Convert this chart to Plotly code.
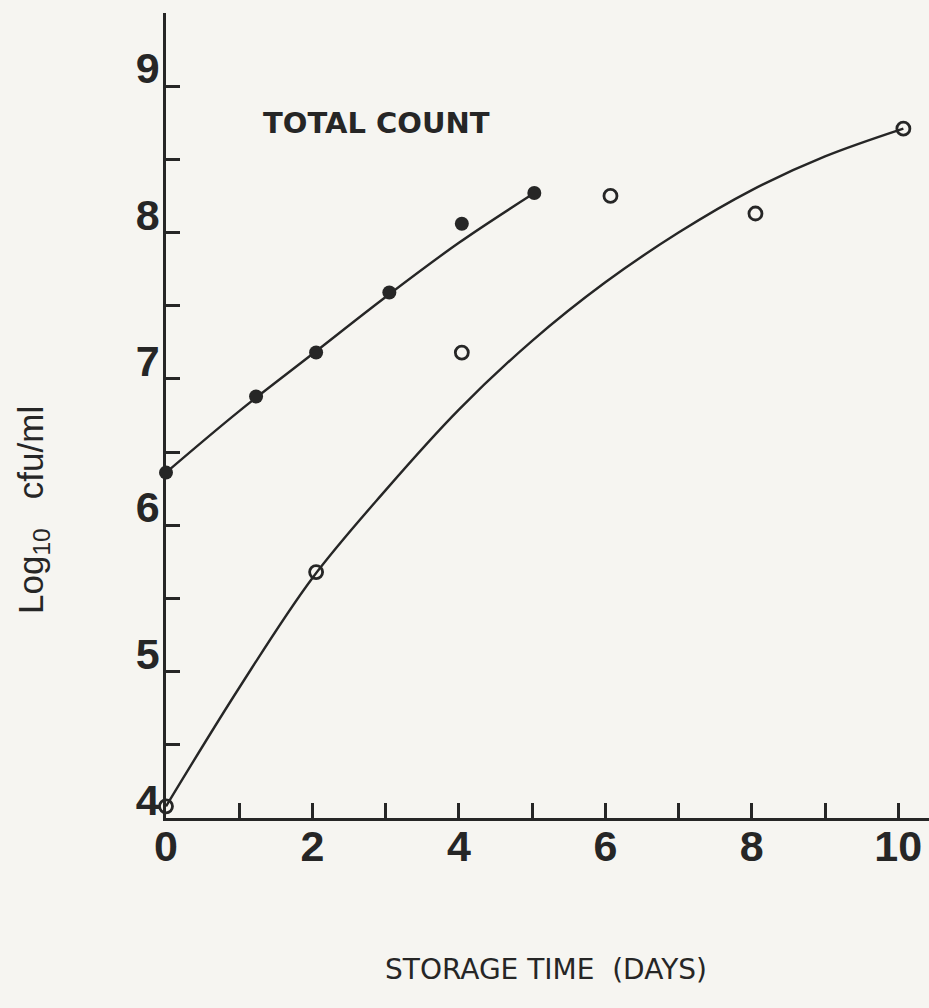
import plotly.graph_objects as go

# Filled circles (upper series)
filled_days = [0, 1.23, 2.05, 3.05, 4.04, 5.03]
filled_log = [6.36, 6.88, 7.18, 7.59, 8.06, 8.27]
# Fitted line through filled circles
filled_fit_days = [0, 1, 2, 3, 4, 5.03]
filled_fit_log = [6.36, 6.78, 7.17, 7.56, 7.93, 8.27]

# Open circles (lower series)
open_days = [0, 2.05, 4.04, 6.07, 8.05, 10.07]
open_log = [4.08, 5.68, 7.18, 8.25, 8.13, 8.71]
# Fitted curve through open circles
open_fit_days = [0, 1, 2, 3, 4, 5, 6, 7, 8, 9, 10.07]
open_fit_log = [4.08, 4.89, 5.64, 6.24, 6.79, 7.26, 7.66, 8.0, 8.29, 8.52, 8.71]

x_tick_vals = [0, 2, 4, 6, 8, 10]
x_tick_text = ["0", "2", "4", "6", "8", "10"]
y_tick_vals = [4, 5, 6, 7, 8, 9]
y_tick_text = ["4", "5", "6", "7", "8", "9"]

ink = "#262626"
bg = "#f6f5f1"

fig = go.Figure()
fig.add_trace(go.Scatter(x=filled_fit_days, y=filled_fit_log, mode="lines",
                         line=dict(color=ink, width=2.4, shape="spline"),
                         cliponaxis=False, showlegend=False, hoverinfo="skip"))
fig.add_trace(go.Scatter(x=open_fit_days, y=open_fit_log, mode="lines",
                         line=dict(color=ink, width=2.4, shape="spline"),
                         cliponaxis=False, showlegend=False, hoverinfo="skip"))
fig.add_trace(go.Scatter(x=filled_days, y=filled_log, mode="markers",
                         marker=dict(symbol="circle", size=14, color=ink),
                         cliponaxis=False, showlegend=False))
fig.add_trace(go.Scatter(x=open_days, y=open_log, mode="markers",
                         marker=dict(symbol="circle-open", size=13, color=ink,
                                     line=dict(width=2.8, color=ink)),
                         cliponaxis=False, showlegend=False))

tick_font = dict(family="Liberation Sans, Arial, sans-serif", size=43, color=ink, weight="bold")

fig.update_layout(
    width=929, height=1008,
    margin=dict(l=166, r=0, t=13, b=190),
    paper_bgcolor=bg, plot_bgcolor=bg,
    xaxis=dict(range=[0, 10.42], showgrid=False, zeroline=False,
               showline=True, linecolor=ink, linewidth=2.5,
               tickmode="array", tickvals=x_tick_vals, ticktext=x_tick_text,
               ticks="inside", ticklen=15, tickwidth=2.5, tickcolor=ink,
               minor=dict(dtick=1, tick0=0, ticks="inside", ticklen=15,
                          tickwidth=2.5, tickcolor=ink, showgrid=False),
               tickfont=tick_font, ticklabelstandoff=-11),
    yaxis=dict(range=[4, 9.5], showgrid=False, zeroline=False,
               showline=True, linecolor=ink, linewidth=2.5,
               tickmode="array", tickvals=y_tick_vals, ticktext=y_tick_text,
               ticks="inside", ticklen=14, tickwidth=2.5, tickcolor=ink,
               minor=dict(dtick=0.5, tick0=4, ticks="inside", ticklen=14,
                          tickwidth=2.5, tickcolor=ink, showgrid=False),
               tickfont=tick_font, ticklabelstandoff=-5, ticklabelshift=-18),
    annotations=[
        dict(text="TOTAL COUNT", x=2.88, y=8.75, xref="x", yref="y",
             showarrow=False, xanchor="center", yanchor="middle",
             font=dict(family="DejaVu Sans, sans-serif", size=29, color=ink, weight="bold")),
        dict(text="Log<sub>10</sub>   cfu/ml", x=(33 - 166) / 763, y=(818 - 510) / 805,
             xref="paper", yref="paper", textangle=-90, showarrow=False,
             xanchor="center", yanchor="middle",
             font=dict(family="Liberation Sans, Arial, sans-serif", size=35, color=ink)),
        dict(text="STORAGE TIME  (DAYS)", x=(546 - 166) / 763, y=(818 - 969) / 805,
             xref="paper", yref="paper", showarrow=False,
             xanchor="center", yanchor="middle",
             font=dict(family="DejaVu Sans, sans-serif", size=28, color=ink)),
    ],
)

fig.write_html("out.html",
               config={"displayModeBar": False},
               post_script="document.body.style.margin='0';"
                           "document.body.style.overflow='hidden';"
                           "document.body.style.background='#f6f5f1';")
